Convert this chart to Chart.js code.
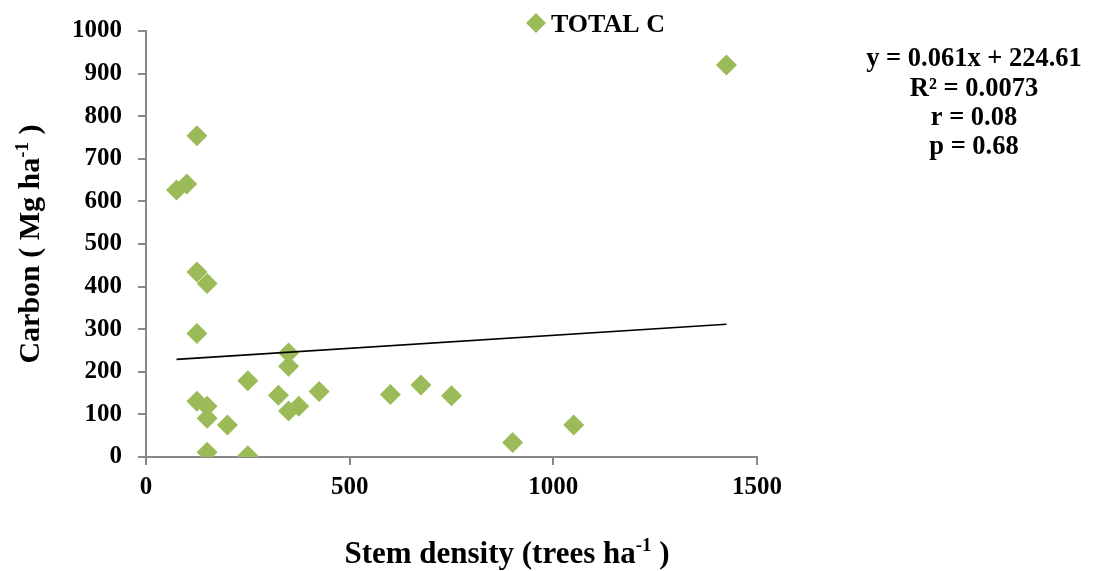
<!DOCTYPE html>
<html>
<head>
<meta charset="utf-8">
<script src="https://cdn.jsdelivr.net/npm/chart.js@4.4.0/dist/chart.umd.min.js"></script>
<style>
    html, body { margin: 0; padding: 0; background: #fff; }
    #wrap { width: 1093px; height: 571px; position: relative; }
</style>
</head>
<body>
<div id="wrap"><canvas id="carbonChart"></canvas></div>
<script>
// Stem density (trees/ha) and total carbon (Mg/ha) per plot
const stemDensity = [125, 75, 100, 125, 150, 125, 350, 350, 250, 125, 150, 150, 200,
                     325, 350, 375, 425, 600, 675, 750, 150, 250, 900, 1050, 1425];
const totalCarbon = [754, 627, 641, 434, 407, 290, 244, 213, 179, 131, 119, 91, 75,
                     145, 108, 119, 154, 147, 169, 144, 11, 3, 34, 75, 920];

// Linear fit reported for the series
const fitSlope = 0.061;
const fitIntercept = 224.61;
const statLines = ['y = 0.061x + 224.61', 'R\u00B2 = 0.0073', 'r = 0.08', 'p = 0.68'];

const seriesLabel = 'TOTAL C';
const xTitle = ['Stem density (trees ha', '-1', ' )'];
const yTitle = ['Carbon ( Mg ha', '-1', ' )'];

const FONT = '"Liberation Serif", "Times New Roman", serif';
const GREEN = '#9BBB59';
const AXIS_GRAY = '#878787';

const points = stemDensity.map((x, i) => ({ x: x, y: totalCarbon[i] }));
const xMin = Math.min(...stemDensity);
const xMax = Math.max(...stemDensity);
const trendPoints = [
    { x: xMin, y: fitSlope * xMin + fitIntercept },
    { x: xMax, y: fitSlope * xMax + fitIntercept }
];

// texto con superindice: [base, sup, resto]
function drawSupText(ctx, parts, cx, cy, size) {
    const supSize = Math.round(size * 0.62);
    ctx.font = 'bold ' + size + 'px ' + FONT;
    const w0 = ctx.measureText(parts[0]).width;
    const w2 = ctx.measureText(parts[2]).width;
    ctx.font = 'bold ' + supSize + 'px ' + FONT;
    const w1 = ctx.measureText(parts[1]).width;
    let x = cx - (w0 + w1 + w2) / 2;
    ctx.textAlign = 'left';
    ctx.textBaseline = 'alphabetic';
    ctx.font = 'bold ' + size + 'px ' + FONT;
    ctx.fillText(parts[0], x, cy);
    x += w0;
    ctx.font = 'bold ' + supSize + 'px ' + FONT;
    ctx.fillText(parts[1], x, cy - size * 0.38);
    x += w1;
    ctx.font = 'bold ' + size + 'px ' + FONT;
    ctx.fillText(parts[2], x, cy);
}

const extraText = {
    id: 'extraText',
    afterDraw(chart) {
        const ctx = chart.ctx;
        ctx.save();

        // leyenda
        ctx.fillStyle = GREEN;
        ctx.beginPath();
        ctx.moveTo(536, 13);
        ctx.lineTo(546, 23);
        ctx.lineTo(536, 33);
        ctx.lineTo(526, 23);
        ctx.closePath();
        ctx.fill();
        ctx.fillStyle = '#000';
        ctx.font = 'bold 26px ' + FONT;
        ctx.textAlign = 'left';
        ctx.textBaseline = 'alphabetic';
        ctx.fillText(seriesLabel, 551, 32);

        // ecuacion y estadisticos
        ctx.font = 'bold 26.5px ' + FONT;
        ctx.textAlign = 'center';
        const baselines = [66, 95.5, 124.5, 153.5];
        statLines.forEach((t, i) => ctx.fillText(t, 974, baselines[i]));

        // titulos de ejes
        drawSupText(ctx, xTitle, 507, 563, 31);
        ctx.translate(39, 244);
        ctx.rotate(-Math.PI / 2);
        drawSupText(ctx, yTitle, 0, 0, 30);
        ctx.restore();
    }
};

const axisCommon = {
    type: 'linear',
    grid: {
        display: true,
        drawOnChartArea: false,
        drawTicks: true,
        tickLength: 8,
        color: AXIS_GRAY,
        lineWidth: 2
    },
    border: { color: AXIS_GRAY, width: 2 }
};

function plainTick(value) {
    return String(value);
}

new Chart(document.getElementById('carbonChart'), {
    data: {
        datasets: [
            {
                type: 'scatter',
                label: seriesLabel,
                data: points,
                pointStyle: 'rectRot',
                pointRadius: 10.5,
                pointHoverRadius: 10.5,
                pointBackgroundColor: GREEN,
                pointBorderWidth: 0,
                borderColor: GREEN,
                order: 2
            },
            {
                type: 'line',
                label: 'Linear (TOTAL C)',
                data: trendPoints,
                borderColor: '#000',
                borderWidth: 1.6,
                pointRadius: 0,
                fill: false,
                order: 1
            }
        ]
    },
    options: {
        responsive: true,
        maintainAspectRatio: false,
        animation: false,
        layout: { padding: { left: 0, right: 336, top: 30, bottom: 0 } },
        plugins: {
            legend: { display: false },
            tooltip: { enabled: false }
        },
        scales: {
            x: Object.assign({}, axisCommon, {
                min: 0,
                max: 1500,
                ticks: {
                    stepSize: 500,
                    color: '#000',
                    padding: 8,
                    callback: plainTick,
                    font: { family: FONT, size: 25, weight: 'bold' }
                },
                afterFit: function(scale) { scale.height = 114; }
            }),
            y: Object.assign({}, axisCommon, {
                min: 0,
                max: 1000,
                ticks: {
                    stepSize: 100,
                    color: '#000',
                    padding: 16,
                    callback: plainTick,
                    font: { family: FONT, size: 25, weight: 'bold' }
                },
                afterFit: function(scale) { scale.width = 146; }
            })
        }
    },
    plugins: [extraText]
});
</script>
</body>
</html>
